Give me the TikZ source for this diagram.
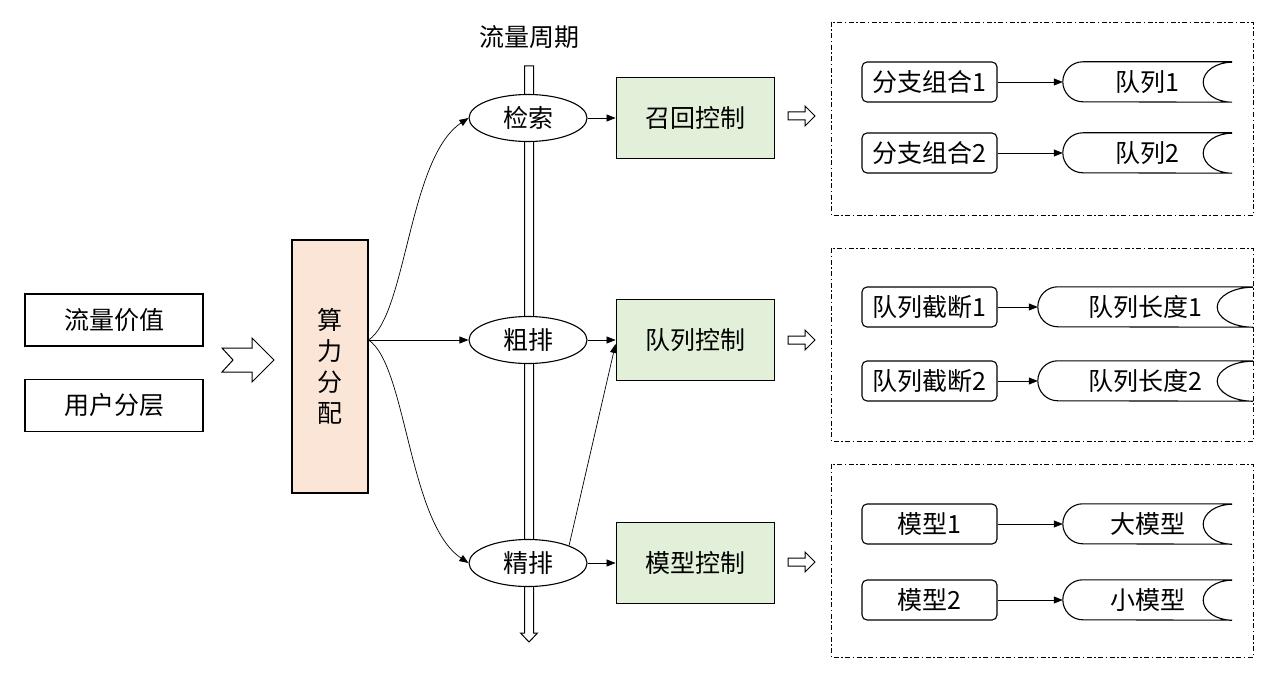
\documentclass[tikz,border=0pt]{standalone}
\usepackage{fontspec}
\setmainfont{Noto Sans CJK SC}
\usepackage{xcolor}
\usepackage{tikz}
\usetikzlibrary{shapes,shapes.geometric,arrows.meta,calc,positioning}
\definecolor{peach}{HTML}{FBE5D6}
\definecolor{leaf}{HTML}{E2F0D9}
\tikzset{
  src_box/.style={draw, line width=1.1pt, minimum width=178pt, minimum height=52pt},
  alloc_box/.style={draw, line width=1.1pt, fill=peach, minimum width=76pt, minimum height=253pt, align=center},
  st_node/.style={ellipse, draw, line width=1.1pt, fill=white, minimum width=118pt, minimum height=47pt, inner sep=0pt},
  ctl_box/.style={draw, line width=1.1pt, fill=leaf, minimum width=158pt, minimum height=81pt},
  item/.style={draw, line width=1.1pt, rounded corners=5pt, minimum width=135pt, minimum height=40pt},
  q_node/.style={inner sep=0pt, minimum height=40pt},
  q_line/.style={line width=1.1pt},
  frame/.style={line width=0.9pt, dash pattern=on 5pt off 2.5pt on 1.5pt off 2.5pt},
  flow/.style={line width=0.7pt, -{Triangle[length=9pt,width=7pt]}},
  hollow/.style={line width=1pt, fill=white, line join=miter},
  hollow_r/.pic={\draw[hollow] (-13.5,-4) -- (3.5,-4) -- (3.5,-10) -- (13.5,0) -- (3.5,10) -- (3.5,4) -- (-13.5,4) -- cycle;}
}
\newcommand{\qoutline}[2]{%
  \draw[q_line] (#1.north east) -- ([xshift=20pt]#1.north west)
    arc[start angle=90, end angle=270, radius=20pt]
    -- (#1.south east)
    arc[start angle=270, end angle=90, x radius=#2pt, y radius=20pt];}

\begin{document}
\begin{tikzpicture}[x=1pt, y=-1pt, font=\fontsize{25}{31}\selectfont]
\useasboundingbox (0,0) rectangle (1276,674);

\node[src_box] (value) at (114,320) {流量价值};
\node[src_box] (layer) at (114,405.5) {用户分层};
\draw[hollow] (222,348) -- (252,348) -- (252,338) -- (274,360) -- (252,382)
  -- (252,372) -- (222,372) -- (233,360) -- cycle;
\node[alloc_box] (alloc) at (330,366.5) {算\\力\\分\\配};

\node (period) at (529,37) {流量周期};
\draw[hollow] (524.5,66) -- (533.5,66) -- (533.5,633) -- (537.5,633) -- (529,642)
  -- (520.5,633) -- (524.5,633) -- cycle;

\node[st_node] (recall) at (528,118) {检索};
\node[st_node] (coarse) at (528,340) {粗排};
\node[st_node] (fine) at (528,563) {精排};

\node[ctl_box, right=28pt of recall] (c_recall) {召回控制};
\node[ctl_box, right=28pt of coarse] (c_queue) {队列控制};
\node[ctl_box, right=28pt of fine] (c_model) {模型控制};

\draw[flow] (alloc.east |- coarse) .. controls +(38,-25) and +(-60,40) .. (recall.west);
\draw[flow] (alloc.east |- coarse) -- (coarse.west);
\draw[flow] (alloc.east |- coarse) .. controls +(38,25) and +(-60,-40) .. (fine.west);
\draw[flow] (recall.east) -- (c_recall.west);
\draw[flow] (coarse.east) -- (c_queue.west);
\draw[flow] (fine.east) -- (c_model.west);
\draw[flow] (fine.23) -- ([yshift=-4pt]c_queue.west);

\pic at (801.5,116) {hollow_r};
\pic at (801.5,340) {hollow_r};
\pic at (801.5,562) {hollow_r};

\draw[frame] (831,22) rectangle (1253,215);
\draw[frame] (831,248) rectangle (1253,441);
\draw[frame] (831,464) rectangle (1253,657);

\node[item] (b1) at (929.5,82) {分支组合1};
\node[item] (b2) at (929.5,153) {分支组合2};
\node[q_node, minimum width=169pt] (q1) at (1147.5,82) {队列1};
\node[q_node, minimum width=169pt] (q2) at (1147.5,153) {队列2};
\qoutline{q1}{29}
\qoutline{q2}{29}
\draw[flow] (b1.east) -- (q1.west);
\draw[flow] (b2.east) -- (q2.west);

\node[item] (t1) at (929.5,307) {队列截断1};
\node[item] (t2) at (929.5,381) {队列截断2};
\node[q_node, minimum width=215pt] (l1) at (1145.5,307) {队列长度1};
\node[q_node, minimum width=215pt] (l2) at (1145.5,381) {队列长度2};
\qoutline{l1}{36}
\qoutline{l2}{36}
\draw[flow] (t1.east) -- (l1.west);
\draw[flow] (t2.east) -- (l2.west);

\node[item] (m1) at (929.5,524) {模型1};
\node[item] (m2) at (929.5,600) {模型2};
\node[q_node, minimum width=169pt] (big) at (1147.5,524) {大模型};
\node[q_node, minimum width=169pt] (small) at (1147.5,600) {小模型};
\qoutline{big}{29}
\qoutline{small}{29}
\draw[flow] (m1.east) -- (big.west);
\draw[flow] (m2.east) -- (small.west);
\end{tikzpicture}
\end{document}
